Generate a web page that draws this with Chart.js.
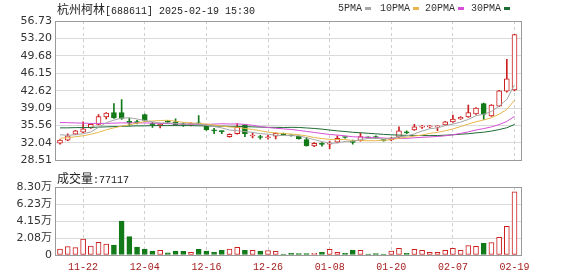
<!DOCTYPE html>
<html lang="zh">
  <head>
    <meta charset="UTF-8" />
    <title>杭州柯林 K线</title>
    <style>
      body { margin: 0; background: #fff; }
      .wrap { position: relative; width: 578px; height: 276px; overflow: hidden; }
      canvas { position: absolute; left: 0; }
      #price { top: 0; }
      #vol { top: 170px; }
      .txt { position: absolute; white-space: nowrap; color: #222; line-height: 12px; }
      .cjk { font-family: "Noto Sans CJK SC"; font-size: 12px; }
      .mono { font-family: "Liberation Mono"; font-size: 10px; }
      .box { display: inline-block; width: 6px; height: 3px; vertical-align: middle; margin-left: 3px; }
    </style>
    <script src="https://cdn.jsdelivr.net/npm/chart.js"></script>
  </head>
  <body>
    <div class="wrap">
      <canvas id="price" width="578" height="170"></canvas>
      <canvas id="vol" width="578" height="106"></canvas>
      <div class="txt" style="left:57px; top:3px;"><span class="cjk">杭州柯林</span><span class="mono">[688611] 2025-02-19 15:30</span></div>
      <div id="legend"></div>
      <div class="txt" style="left:57px; top:172px;"><span class="cjk">成交量</span><span class="mono">:77117</span></div>
    </div>
    <script>
      const dates = ["11-19","11-20","11-21","11-22","11-25","11-26","11-27","11-28","11-29","12-02",
        "12-03","12-04","12-05","12-06","12-09","12-10","12-11","12-12","12-13","12-16",
        "12-17","12-18","12-19","12-20","12-23","12-24","12-25","12-26","12-27","12-30",
        "12-31","01-02","01-03","01-06","01-07","01-08","01-09","01-10","01-13","01-14",
        "01-15","01-16","01-17","01-20","01-21","01-22","01-23","01-24","01-27","02-05",
        "02-06","02-07","02-10","02-11","02-12","02-13","02-14","02-17","02-18","02-19"];

      const opens = [32.01,32.6,33.8,34.2,35.1,35.8,37.3,38.2,38.2,36.4,
        36.3,37.8,35.95,35.5,36.35,36.3,35.8,35.7,36.05,35.45,
        34.6,34.45,33.3,33.9,35.7,33.45,33.25,33.1,33.4,34.0,
        33.6,33.4,32.7,31.45,31.85,31.8,32.2,33.25,32.3,32.5,
        33.2,33.25,32.6,32.65,33.2,34.3,34.7,35.25,35.3,35.3,
        35.7,36.3,36.9,37.3,37.9,40.0,37.5,39.5,42.5,42.8];
      const highs = [32.7,33.9,34.6,36.3,35.9,37.8,38.2,40.0,40.8,37.1,
        36.6,37.9,36.2,36.0,36.6,36.95,36.1,36.1,37.6,35.6,
        35.0,34.5,33.9,35.97,35.8,34.1,33.6,33.6,34.1,34.05,
        33.7,33.5,33.2,32.1,32.1,32.4,33.5,33.3,32.6,34.02,
        33.3,33.5,32.7,33.2,35.3,34.5,35.8,35.6,35.6,35.5,
        36.4,37.7,37.4,39.7,39.2,40.1,39.8,42.7,48.95,54.05];
      const lows = [31.8,32.5,33.7,34.1,35.0,35.7,36.9,37.0,36.8,35.5,
        35.9,36.4,35.2,35.1,36.0,35.6,35.4,35.5,35.8,34.6,
        33.9,33.9,33.2,33.8,33.3,33.05,32.8,32.8,32.85,33.6,
        33.4,32.8,31.4,31.3,31.4,30.9,32.1,33.0,31.8,32.4,
        33.0,32.9,32.4,32.5,33.1,33.9,34.6,35.0,35.1,34.55,
        35.6,36.2,36.8,37.2,37.8,36.8,37.4,39.4,42.3,42.6];
      const closes = [32.6,33.5,34.5,34.9,35.8,37.4,38.1,37.1,37.0,36.1,
        36.15,36.6,35.75,35.8,36.25,35.7,35.7,35.95,35.9,34.75,
        34.5,34.35,33.8,35.2,33.9,33.6,33.15,33.25,34.0,33.7,
        33.5,32.9,31.5,31.95,31.75,31.9,33.0,33.15,32.15,33.35,
        33.1,33.15,32.5,33.05,34.5,34.05,35.3,35.35,35.4,35.4,
        36.3,36.9,37.25,38.2,39.1,37.8,39.7,42.6,45.0,54.0];
      const volumes = [7300,10200,9000,19500,11000,15500,13400,12200,41500,22400,
        9800,7300,4900,5700,2500,4900,4500,3300,7000,4900,
        3300,5700,7300,9400,5700,5700,4900,5300,4500,1200,
        2000,1600,1600,2000,3300,6900,3300,2000,5700,5700,
        800,1600,800,4900,8100,2000,6900,5700,3300,3300,
        5700,8100,5700,11400,10600,14300,15100,21600,35000,77117];

      const ma5 = [33.7,33.6,33.7,33.9,34.26,35.2,36.14,36.66,37.08,37.14,
        36.89,36.59,36.32,36.08,36.11,36.02,35.84,35.88,35.9,35.6,
        35.36,35.09,34.66,34.52,34.35,34.17,33.93,33.82,33.58,33.54,
        33.52,33.47,33.12,32.71,32.32,32.0,32.02,32.35,32.39,32.71,
        32.95,32.98,32.85,33.03,33.26,33.45,33.88,34.45,34.92,35.1,
        35.55,35.87,36.25,36.81,37.55,37.85,38.41,39.48,40.84,43.82];
      const ma10 = [33.0,33.1,33.3,33.5,33.8,34.2,34.7,35.1,35.45,35.7,
        36.06,36.37,36.49,36.58,36.63,36.46,36.22,36.1,35.99,35.86,
        35.69,35.47,35.27,35.21,34.98,34.77,34.51,34.24,34.05,33.95,
        33.85,33.7,33.47,33.15,32.93,32.76,32.75,32.74,32.55,32.52,
        32.48,32.5,32.6,32.71,32.99,33.2,33.43,33.65,33.98,34.18,
        34.5,34.88,35.35,35.87,36.33,36.7,37.14,37.87,38.83,40.69];
      const ma20 = [36.2,36.15,36.1,36.05,36.0,36.0,36.0,36.05,36.1,36.1,
        36.1,36.1,36.05,36.0,35.95,35.9,35.85,35.85,35.8,35.78,
        35.87,35.92,35.88,35.9,35.8,35.61,35.36,35.17,35.02,34.9,
        34.77,34.58,34.37,34.18,33.95,33.76,33.63,33.49,33.3,33.23,
        33.16,33.1,33.04,32.93,32.96,32.98,33.09,33.19,33.26,33.35,
        33.49,33.69,33.98,34.29,34.66,34.95,35.29,35.76,36.4,37.43];
      const ma30 = [35.1,35.1,35.15,35.15,35.2,35.25,35.3,35.35,35.4,35.45,
        35.5,35.5,35.55,35.55,35.55,35.55,35.55,35.55,35.5,35.5,
        35.45,35.45,35.4,35.4,35.35,35.3,35.25,35.2,35.2,35.17,
        35.2,35.18,35.08,34.98,34.84,34.66,34.49,34.36,34.2,34.11,
        34.0,33.89,33.78,33.69,33.63,33.58,33.56,33.54,33.53,33.55,
        33.61,33.69,33.81,33.91,34.08,34.22,34.44,34.75,35.12,35.79];

      const priceTicks = [28.51,32.04,35.56,39.09,42.62,46.15,49.68,53.20,56.73];
      const priceLabels = ["28.51","32.04","35.56","39.09","42.62","46.15","49.68","53.20","56.73"];
      const volTicks = [0,20750,41500,62250,83000];
      const volLabels = ["0","2.08万","4.15万","6.23万","8.30万"];
      const dateTickIdx = [3,11,19,27,35,43,51,59];

      const maSeries = [
        { name: "5PMA", data: ma5, color: "#a6a6a6" },
        { name: "10PMA", data: ma10, color: "#e8b64c" },
        { name: "20PMA", data: ma20, color: "#d64fd6" },
        { name: "30PMA", data: ma30, color: "#1d6b35" },
      ];

      const RED = "#cc1f1f";
      const GREEN = "#127a18";
      const up = closes.map((c, i) => c >= opens[i]);
      const candleColor = up.map((u) => (u ? RED : GREEN));
      const bodyFill = up.map((u) => (u ? "#ffffff" : GREEN));

      // legend in the top right
      const legendPos = [338, 380, 425, 471];
      const legend = document.getElementById("legend");
      maSeries.forEach((s, k) => {
        const d = document.createElement("div");
        d.className = "txt mono";
        d.style.left = legendPos[k] + "px";
        d.style.top = "3px";
        d.style.color = "#333";
        d.innerHTML = s.name + '<span class="box" style="background:' + s.color + '"></span>';
        legend.appendChild(d);
      });

      const xMin = -0.65, xMax = 59.97;

      const frame = {
        id: "frame",
        afterDraw(chart) {
          const { ctx, chartArea: a } = chart;
          ctx.save();
          ctx.strokeStyle = "#9a9a9a";
          ctx.lineWidth = 1;
          ctx.strokeRect(Math.round(a.left) + 0.5, Math.round(a.top) + 0.5, Math.round(a.width) - 1, Math.round(a.height));
          ctx.restore();
        },
      };

      const xScale = (showLabels) => ({
        type: "linear",
        min: xMin,
        max: xMax,
        offset: false,
        afterBuildTicks: (s) => { s.ticks = dateTickIdx.map((v) => ({ value: v })); },
        ticks: {
          display: showLabels,
          autoSkip: false,
          maxRotation: 0,
          padding: 6,
          color: "#a52020",
          font: { family: "Liberation Mono", size: 10 },
          callback: (v) => dates[v],
        },
        grid: { color: "#cfcfcf", drawTicks: false, offset: false },
        border: { display: false, dash: [3, 3] },
        afterFit: (s) => { s.height = showLabels ? 21 : 0; },
      });

      const yFont = { family: "DejaVu Sans, Noto Sans CJK SC", size: 11 };

      new Chart(document.getElementById("price"), {
        type: "bar",
        data: {
          datasets: [
            ...maSeries.map((s) => ({
              type: "line",
              label: s.name,
              data: s.data.map((v, i) => ({ x: i, y: v })),
              borderColor: s.color,
              borderWidth: 1,
              pointRadius: 0,
              tension: 0,
              order: 0,
            })),
            {
              label: "body",
              data: opens.map((o, i) => ({ x: i, y: [o, closes[i]] })),
              backgroundColor: bodyFill,
              borderColor: candleColor,
              borderWidth: 1,
              borderSkipped: false,
              barThickness: 5,
              minBarLength: 1,
              grouped: false,
              order: 1,
            },
            {
              label: "wick",
              data: lows.map((l, i) => ({ x: i, y: [l, highs[i]] })),
              backgroundColor: candleColor,
              barThickness: 1,
              grouped: false,
              order: 2,
            },
          ],
        },
        options: {
          responsive: false,
          animation: false,
          devicePixelRatio: 1,
          layout: { padding: { left: 0, right: 56, top: 21, bottom: 4 } },
          plugins: { legend: { display: false }, tooltip: { enabled: false } },
          scales: {
            x: xScale(false),
            y: {
              min: priceTicks[0],
              max: priceTicks[priceTicks.length - 1],
              beginAtZero: false,
              afterBuildTicks: (s) => { s.ticks = priceTicks.map((v) => ({ value: v })); },
              ticks: { padding: 3, color: "#333", font: yFont, callback: (v, i) => priceLabels[i] },
              grid: { color: "#dadada", drawTicks: false },
              border: { display: false },
              afterFit: (s) => { s.width = 55; },
            },
          },
        },
        plugins: [frame],
      });

      new Chart(document.getElementById("vol"), {
        type: "bar",
        data: {
          datasets: [
            {
              label: "volume",
              data: volumes.map((v, i) => ({ x: i, y: v })),
              backgroundColor: bodyFill,
              borderColor: candleColor,
              borderWidth: 1,
              borderSkipped: false,
              barThickness: 5,
              minBarLength: 1,
            },
          ],
        },
        options: {
          responsive: false,
          animation: false,
          devicePixelRatio: 1,
          layout: { padding: { left: 0, right: 56, top: 17, bottom: 0 } },
          plugins: { legend: { display: false }, tooltip: { enabled: false } },
          scales: {
            x: xScale(true),
            y: {
              min: 0,
              max: volTicks[volTicks.length - 1],
              afterBuildTicks: (s) => { s.ticks = volTicks.map((v) => ({ value: v })); },
              ticks: { padding: 3, color: "#333", font: yFont, callback: (v, i) => volLabels[i] },
              grid: { color: "#dadada", drawTicks: false },
              border: { display: false },
              afterFit: (s) => { s.width = 55; },
            },
          },
        },
        plugins: [frame],
      });
    </script>
  </body>
</html>
